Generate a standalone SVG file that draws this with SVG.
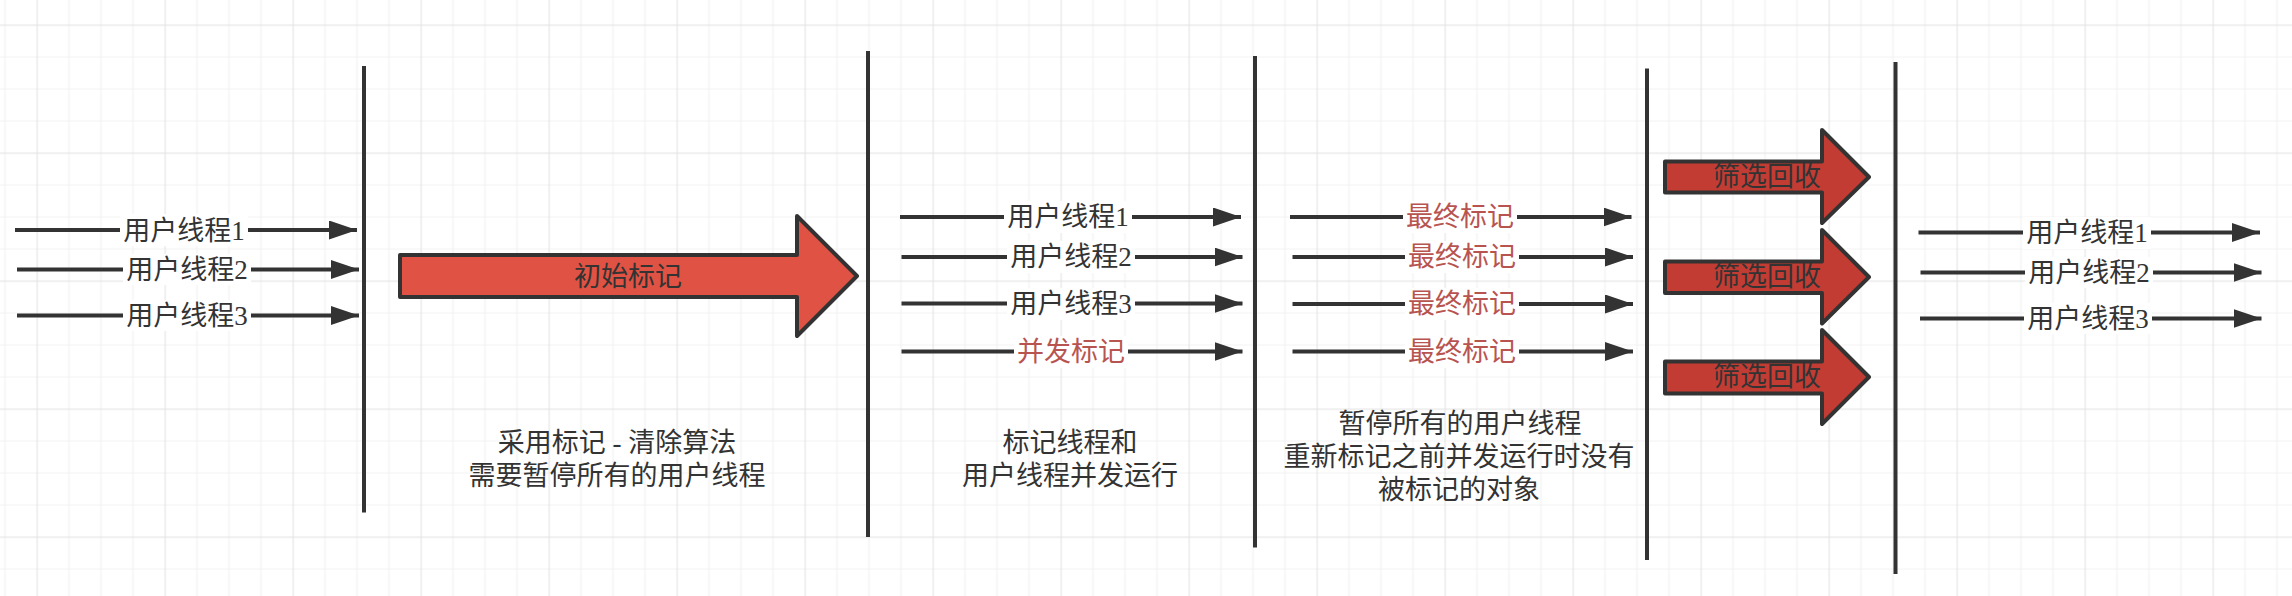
<svg xmlns="http://www.w3.org/2000/svg" width="2292" height="596" viewBox="0 0 2292 596">
  <defs>
    <pattern id="grid" patternUnits="userSpaceOnUse" x="36.5" y="24.5" width="128" height="128">
      <path d="M32.5 0V128M64.5 0V128M96.5 0V128M0 32.5H128M0 64.5H128M0 96.5H128" stroke="#f2f2f2" stroke-width="1.2" fill="none"/>
      <path d="M0.5 0V128M0 0.5H128" stroke="#e6e6e6" stroke-width="1.4" fill="none"/>
    </pattern>
    <marker id="arr" markerUnits="userSpaceOnUse" markerWidth="30" markerHeight="20" refX="28" refY="9.5" orient="auto">
      <path d="M0,0 L28,9.5 L0,19 Z" fill="#333333"/>
    </marker>
    <style>
      .bar{stroke:#333333;stroke-width:4;fill:none}
      .ln{stroke:#333333;stroke-width:4;fill:none;marker-end:url(#arr)}
      .lb{fill:#ffffff}
      .t{font-family:"Liberation Serif","Noto Sans CJK SC",serif;font-size:27px;fill:#333333;text-anchor:middle;dominant-baseline:central}
      .red{fill:#b85450}
      .big{fill:#e05243;stroke:#333333;stroke-width:4;stroke-linejoin:round}
      .sm{fill:#c33c33;stroke:#333333;stroke-width:4;stroke-linejoin:round}
    </style>
  </defs>
  <rect x="0" y="0" width="2292" height="596" fill="#ffffff"/>
  <rect x="0" y="0" width="2292" height="596" fill="url(#grid)"/>

  <g id="separators">
    <line class="bar" x1="364" y1="66" x2="364" y2="512.5"/>
    <line class="bar" x1="868" y1="51" x2="868" y2="537"/>
    <line class="bar" x1="1255" y1="56" x2="1255" y2="547.5"/>
    <line class="bar" x1="1647" y1="68.5" x2="1647" y2="560"/>
    <line class="bar" x1="1895.5" y1="62" x2="1895.5" y2="574"/>
  </g>

  <g id="connectors">
    <line class="ln" x1="15" y1="230" x2="357" y2="230"/>
    <line class="ln" x1="17" y1="269.5" x2="359" y2="269.5"/>
    <line class="ln" x1="17" y1="315.5" x2="359" y2="315.5"/>

    <line class="ln" x1="900" y1="217" x2="1241" y2="217"/>
    <line class="ln" x1="901.5" y1="257" x2="1242.5" y2="257"/>
    <line class="ln" x1="901.5" y1="303.5" x2="1242.5" y2="303.5"/>
    <line class="ln" x1="901.5" y1="351.5" x2="1242.5" y2="351.5"/>

    <line class="ln" x1="1290" y1="217" x2="1631.5" y2="217"/>
    <line class="ln" x1="1292.5" y1="257" x2="1633" y2="257"/>
    <line class="ln" x1="1292.5" y1="304" x2="1633" y2="304"/>
    <line class="ln" x1="1292.5" y1="351.5" x2="1633" y2="351.5"/>

    <line class="ln" x1="1918.5" y1="232.5" x2="2260" y2="232.5"/>
    <line class="ln" x1="1920.5" y1="272.5" x2="2261.5" y2="272.5"/>
    <line class="ln" x1="1920" y1="318.5" x2="2261.5" y2="318.5"/>
  </g>

  <g id="labels-col0">
    <rect class="lb" x="120" y="214" width="128" height="32"/>
    <text class="t" x="184" y="231">用户线程1</text>
    <rect class="lb" x="123" y="254" width="128" height="31"/>
    <text class="t" x="187" y="270">用户线程2</text>
    <rect class="lb" x="123" y="300" width="128" height="31"/>
    <text class="t" x="187" y="316">用户线程3</text>
  </g>

  <g id="labels-col2">
    <rect class="lb" x="1004" y="201" width="128" height="32"/>
    <text class="t" x="1068" y="217">用户线程1</text>
    <rect class="lb" x="1007" y="241" width="128" height="32"/>
    <text class="t" x="1071" y="257">用户线程2</text>
    <rect class="lb" x="1007" y="288" width="128" height="32"/>
    <text class="t" x="1071" y="304">用户线程3</text>
    <rect class="lb" x="1014" y="336" width="114" height="32"/>
    <text class="t red" x="1071" y="352">并发标记</text>
  </g>

  <g id="labels-col3">
    <rect class="lb" x="1403" y="201" width="114" height="32"/>
    <text class="t red" x="1460" y="217">最终标记</text>
    <rect class="lb" x="1405" y="241" width="114" height="32"/>
    <text class="t red" x="1462" y="257">最终标记</text>
    <rect class="lb" x="1405" y="288" width="114" height="32"/>
    <text class="t red" x="1462" y="304">最终标记</text>
    <rect class="lb" x="1405" y="336" width="114" height="32"/>
    <text class="t red" x="1462" y="352">最终标记</text>
  </g>

  <g id="labels-col5">
    <rect class="lb" x="2023" y="217" width="128" height="32"/>
    <text class="t" x="2087" y="233">用户线程1</text>
    <rect class="lb" x="2025" y="257" width="128" height="31"/>
    <text class="t" x="2089" y="273">用户线程2</text>
    <rect class="lb" x="2024" y="303" width="128" height="31"/>
    <text class="t" x="2088" y="319">用户线程3</text>
  </g>

  <g id="initial-mark">
    <polygon class="big" points="400,255 797,255 797,216 857,276 797,336 797,297 400,297"/>
    <text class="t" x="628" y="277">初始标记</text>
  </g>

  <g id="sweep-1">
    <polygon class="sm" points="1665,161.5 1822,161.5 1822,130 1869,177 1822,223 1822,192.5 1665,192.5"/>
    <text class="t" x="1767" y="177">筛选回收</text>
  </g>
  <g id="sweep-2">
    <polygon class="sm" points="1665,261.5 1822,261.5 1822,230 1869,277 1822,323.5 1822,293 1665,293"/>
    <text class="t" x="1767" y="277">筛选回收</text>
  </g>
  <g id="sweep-3">
    <polygon class="sm" points="1665,361.5 1822,361.5 1822,330 1869,377 1822,424 1822,393.5 1665,393.5"/>
    <text class="t" x="1767" y="377">筛选回收</text>
  </g>

  <g id="desc-initial">
    <text class="t" x="617" y="443">采用标记 - 清除算法</text>
    <text class="t" x="617" y="476">需要暂停所有的用户线程</text>
  </g>
  <g id="desc-concurrent">
    <text class="t" x="1070" y="443">标记线程和</text>
    <text class="t" x="1070" y="476">用户线程并发运行</text>
  </g>
  <g id="desc-remark">
    <text class="t" x="1460" y="424">暂停所有的用户线程</text>
    <text class="t" x="1459" y="457">重新标记之前并发运行时没有</text>
    <text class="t" x="1459" y="490">被标记的对象</text>
  </g>
</svg>
